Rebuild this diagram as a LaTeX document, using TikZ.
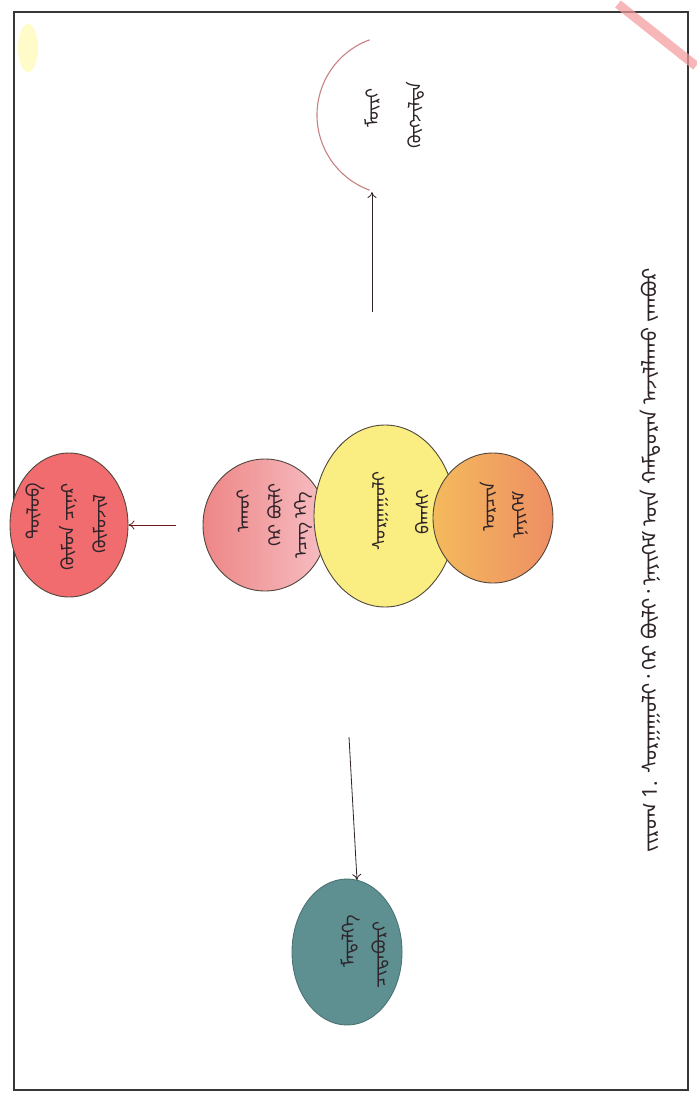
\documentclass[tikz,border=0pt]{standalone}
\usepackage{fontspec}
\usetikzlibrary{arrows.meta,shapes.geometric}
\IfFontExistsTF{Noto Sans Mongolian}{\newfontfamily\mnfont[Script=Mongolian]{Noto Sans Mongolian}}{\newfontfamily\mnfont{DejaVu Sans}}
\definecolor{inkc}{RGB}{45,35,40}
\definecolor{yel}{RGB}{250,238,130}
\definecolor{orngL}{RGB}{244,186,92}
\definecolor{orngR}{RGB}{238,142,100}
\definecolor{pnk}{RGB}{238,134,134}
\definecolor{pnkL}{RGB}{246,190,196}
\definecolor{redc}{RGB}{240,108,110}
\definecolor{tealc}{RGB}{94,144,146}
\definecolor{framec}{RGB}{55,55,55}
\definecolor{edgec}{RGB}{80,70,60}
\tikzset{
  blob/.style={ellipse, draw=edgec, line width=0.9pt, inner sep=0pt},
  mn/.style={font=\mnfont\fontsize{18}{20}\selectfont, text=inkc, rotate=90, inner sep=0pt},
  arr/.style={line width=0.8pt, draw=inkc, -{To[length=6pt,width=9pt]}},
}
\begin{document}
\begin{tikzpicture}[x=1pt,y=-1pt]
\useasboundingbox (0,0) rectangle (696,1102);
\fill[white] (0,0) rectangle (696,1102);
\draw[framec, line width=1.4pt] (14,12) rectangle (688,1090);
% corner marks
\draw[line width=9pt, color=redc!70!white, opacity=0.7] (618,4) -- (696,66);
\fill[yellow!35!white, opacity=0.6] (28,48) ellipse (10pt and 24pt);
% circles
\node[blob, draw=none, minimum width=160pt, minimum height=160pt] (top) at (397,115) {};
\draw[line width=1.1pt, color=gray!60!red!70!white] (top.center) ++(250:80) arc[start angle=250, end angle=110, radius=80];
\node[blob, fill=redc, minimum width=118pt, minimum height=144pt] (red) at (69,525) {};
\node[blob, left color=pnk, right color=pnkL, minimum width=124pt, minimum height=132pt] (pink) at (265,525) {};
\node[blob, fill=yel, minimum width=142pt, minimum height=182pt] (yellow) at (385,516) {};
\node[blob, left color=orngL, right color=orngR, minimum width=120pt, minimum height=130pt] (orange) at (493,518) {};
\node[blob, fill=tealc, draw=tealc!80!black, minimum width=110pt, minimum height=146pt] (blue) at (347,952) {};
% connectors
\coordinate (upS) at (372,312);
\coordinate (upE) at (372,192);
\draw[arr] (upS) -- (upE);
\draw[arr, draw=inkc!70!red] (pink.west) ++(-27,0) coordinate (lfS) -- (red.east);
\coordinate (dnS) at (349,737);
\coordinate (dnE) at (357,880);
\draw[arr] (dnS) -- (dnE);
% texts
\node[mn] (t1) at (372,108) {ᠮᠦᠷᠢ};
\node[mn] (t2) at (415,115) {ᠬᠥᠭᠵᠢᠯᠲᠡ};
\node[mn] (r1) at (100,524) {ᠬᠦᠮᠦᠵᠢᠯ};
\node[mn] (r2) at (68,527) {ᠬᠦᠮᠦᠨ ᠴᠢᠨᠠᠷ};
\node[mn] (r3) at (35,511) {ᠲᠥᠯᠦᠪ};
\node[mn] (p1) at (303,525) {ᠡᠴᠡᠭ ᠡᠬᠡ};
\node[mn] (p2) at (275,515) {ᠭᠡᠷ ᠪᠦᠯᠢ};
\node[mn] (p3) at (243,511) {ᠠᠬᠤᠢ};
\node[mn] (y1) at (380,511) {ᠰᠤᠷᠭᠠᠭᠤᠯᠢ};
\node[mn] (y2) at (422,512) {ᠪᠠᠭᠰᠢ};
\node[mn] (o1) at (520,515) {ᠨᠡᠶᠢᠭᠡᠮ};
\node[mn] (o2) at (488,507) {ᠣᠷᠴᠢᠨ};
\node[mn] (b1) at (350,941) {ᠮᠡᠳᠡᠯᠭᠡ};
\node[mn] (b2) at (380,955) {ᠴᠢᠳᠠᠪᠤᠷᠢ};
\node[mn, font=\mnfont\fontsize{20.5}{23}\selectfont] (cap) at (650,560) {ᠵᠢᠷᠤᠭ 1. ᠰᠤᠷᠭᠠᠭᠤᠯᠢ᠂ ᠭᠡᠷ ᠪᠦᠯᠢ᠂ ᠨᠡᠶᠢᠭᠡᠮ ᠦᠨ ᠬᠠᠮᠲᠤᠷᠠᠨ ᠠᠵᠢᠯᠯᠠᠬᠤ ᠵᠠᠭᠪᠤᠷ};
\end{tikzpicture}
\end{document}
